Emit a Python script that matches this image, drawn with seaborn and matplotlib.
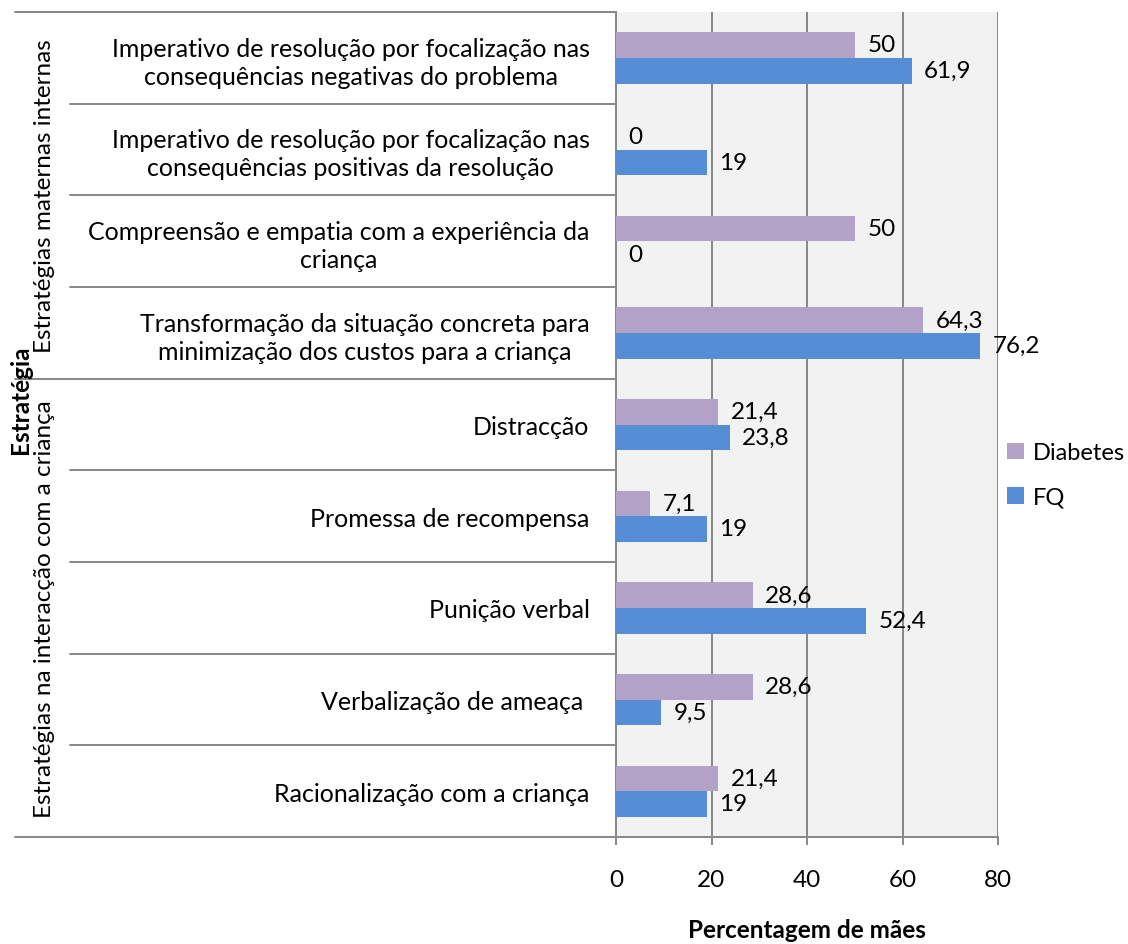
import numpy as np
import pandas as pd
import matplotlib
matplotlib.use("Agg")
import matplotlib.pyplot as plt
import matplotlib.transforms as mtransforms
from matplotlib.patches import Patch
import seaborn as sns

categories = [
    "Imperativo de resolução por focalização nas\nconsequências negativas do problema",
    "Imperativo de resolução por focalização nas\nconsequências positivas da resolução",
    "Compreensão e empatia com a experiência da\ncriança",
    "Transformação da situação concreta para\nminimização dos custos para a criança",
    "Distracção",
    "Promessa de recompensa",
    "Punição verbal",
    "Verbalização de ameaça ",
    "Racionalização com a criança",
]
diabetes = [50, 0, 50, 64.3, 21.4, 7.1, 28.6, 28.6, 21.4]
fq = [61.9, 19, 0, 76.2, 23.8, 19, 52.4, 9.5, 19]
series = ["Diabetes", "FQ"]
groups = ["Estratégias maternas internas", "Estratégias na interacção com a criança"]
group_sizes = [4, 5]
xticks = [0, 20, 40, 60, 80]

colors = {"Diabetes": "#B3A2C7", "FQ": "#558ED5"}
grid_c = "#878787"

sns.set_theme(style="white")
plt.rcParams["font.family"] = ["Lato", "DejaVu Sans"]
plt.rcParams["text.color"] = "black"
FS_CAT = 18
FS = 17.5

df = pd.DataFrame({
    "Estratégia": categories * 2,
    "Percentagem": diabetes + fq,
    "Grupo": ["Diabetes"] * len(categories) + ["FQ"] * len(categories),
})

W, H = 1128, 945
fig = plt.figure(figsize=(W / 100, H / 100), dpi=100)
L, R, B, T = 616, 998, 838, 13
ax = fig.add_axes([L / W, 1 - B / H, (R - L) / W, (B - T) / H])

sns.barplot(data=df, y="Estratégia", x="Percentagem", hue="Grupo",
            hue_order=series, order=categories, palette=colors, orient="h",
            width=0.56, saturation=1, ax=ax, legend=False, zorder=3,
            edgecolor="none")

ax.set_facecolor("#F2F2F2")
ax.set_xlim(0, 80)
ax.set_ylim(len(categories) - 0.5, -0.5)
ax.set_xticks(xticks)
ax.set_xticklabels([str(v) for v in xticks], fontsize=FS)
ax.grid(axis="x", color=grid_c, lw=1.4, zorder=0)
ax.grid(axis="y", visible=False)
for s in ["top", "right"]:
    ax.spines[s].set_visible(False)
for s in ["left", "bottom"]:
    ax.spines[s].set_color(grid_c)
    ax.spines[s].set_linewidth(1.4)
ax.tick_params(axis="x", length=6, width=1.4, color=grid_c, labelcolor="black",
               pad=17, bottom=True)
ax.tick_params(axis="y", length=0, pad=19, labelcolor="black")
ax.set_yticks(range(len(categories)))
ax.set_yticklabels(categories, fontsize=FS_CAT, linespacing=1.25)
for lab in ax.get_yticklabels():
    lab.set_multialignment("center")
ax.set_ylabel("")
ax.set_xlabel("Percentagem de mães", fontsize=FS, fontweight="bold",
              labelpad=20, color="black")

# value labels
for cont, vals in zip(ax.containers, [diabetes, fq]):
    ax.bar_label(cont, labels=[f"{v:g}".replace(".", ",") for v in vals],
                 padding=9, fontsize=FS, color="black")

# category separator lines (hierarchical axis)
tr = mtransforms.blended_transform_factory(fig.transFigure, ax.transData)
bounds = np.arange(len(categories) + 1) - 0.5
group_bounds = np.cumsum([0] + group_sizes) - 0.5
for yb in bounds:
    x0 = 15 if yb in group_bounds else 70
    ax.plot([x0 / W, L / W], [yb, yb], transform=tr, color=grid_c, lw=1.4,
            clip_on=False, zorder=1)

# group labels
start = 0
for g, n in zip(groups, group_sizes):
    yc = start + (n - 1) / 2
    ax.text(45 / W, yc, g, transform=tr, rotation=90, ha="center", va="center",
            fontsize=FS)
    start += n

fig.text(20 / W, 1 - 400 / H, "Estratégia", rotation=90, ha="center",
         va="center", fontsize=FS, fontweight="bold")

handles = [Patch(facecolor=colors[s], edgecolor="none") for s in series]
fig.legend(handles, series, loc="center left",
           bbox_to_anchor=(1007 / W, 1 - 476 / H), frameon=False, fontsize=17,
           handlelength=0.7, handleheight=0.7, handletextpad=0.4,
           labelspacing=1.0, borderpad=0, borderaxespad=0)

fig.savefig("out.png", dpi=100)
